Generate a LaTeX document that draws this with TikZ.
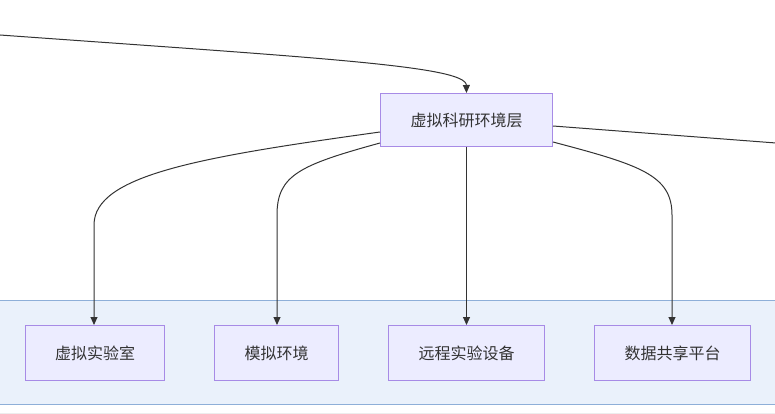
\documentclass[tikz,border=0pt]{standalone}
\usepackage{fontspec}
\setmainfont{Noto Sans CJK SC}
\usetikzlibrary{arrows.meta}
\definecolor{nodefill}{HTML}{ECECFF}
\definecolor{nodeborder}{HTML}{A78BE6}
\definecolor{bandfill}{HTML}{EAF1FB}
\definecolor{bandborder}{HTML}{8EAFD8}
\definecolor{linecol}{HTML}{333333}
\definecolor{txt}{HTML}{333333}
\tikzset{
  box/.style={draw=nodeborder, fill=nodefill, line width=1pt, inner sep=0pt, text=txt,
    font=\fontsize{16}{19}\selectfont, anchor=north west},
  conn/.style={draw=linecol, line width=1pt, -{Triangle[length=8pt,width=7pt]}},
  plain/.style={draw=linecol, line width=1pt}
}
\begin{document}
\begin{tikzpicture}[x=1pt,y=-1pt]
\useasboundingbox (0,0) rectangle (775,414);
% band
\fill[bandfill] (-5,300) rectangle (780,405);
\draw[bandborder, line width=1.8pt] (-5,300.5) -- (780,300.5);
\draw[bandborder, line width=1.8pt] (-5,404.5) -- (780,404.5);
\draw[black!7, line width=1pt] (-5,413.5) -- (780,413.5);
% nodes
\node[box, minimum width=172pt, minimum height=53pt] (main) at (380,93) {虚拟科研环境层};
\node[box, minimum width=139pt, minimum height=55pt] (c1) at (25,325) {虚拟实验室};
\node[box, minimum width=124pt, minimum height=55pt] (c2) at (214,325) {模拟环境};
\node[box, minimum width=156pt, minimum height=55pt] (c3) at (388,325) {远程实验设备};
\node[box, minimum width=156pt, minimum height=55pt] (c4) at (594,325) {数据共享平台};
% free ends
\coordinate (inL) at (0,35);
\coordinate (outR) at (776,143);
% connectors
\draw[conn] (inL) .. controls (320,58) and (466,66) .. (main.north);
\draw[plain] (main.east |- 0,126) -- (outR);
\draw[conn] (main.west |- 0,132) .. controls (200,157) and (94,175) .. (94,225) -- (c1.north -| 94,0);
\draw[conn] (main.west |- 0,143) .. controls (300,165) and (277,175) .. (277,215) -- (c2.north -| 277,0);
\draw[conn] (main.south) -- (c3.north -| main.south);
\draw[conn] (main.east |- 0,142) .. controls (640,165) and (672,175) .. (672,215) -- (c4.north -| 672,0);
\end{tikzpicture}
\end{document}
